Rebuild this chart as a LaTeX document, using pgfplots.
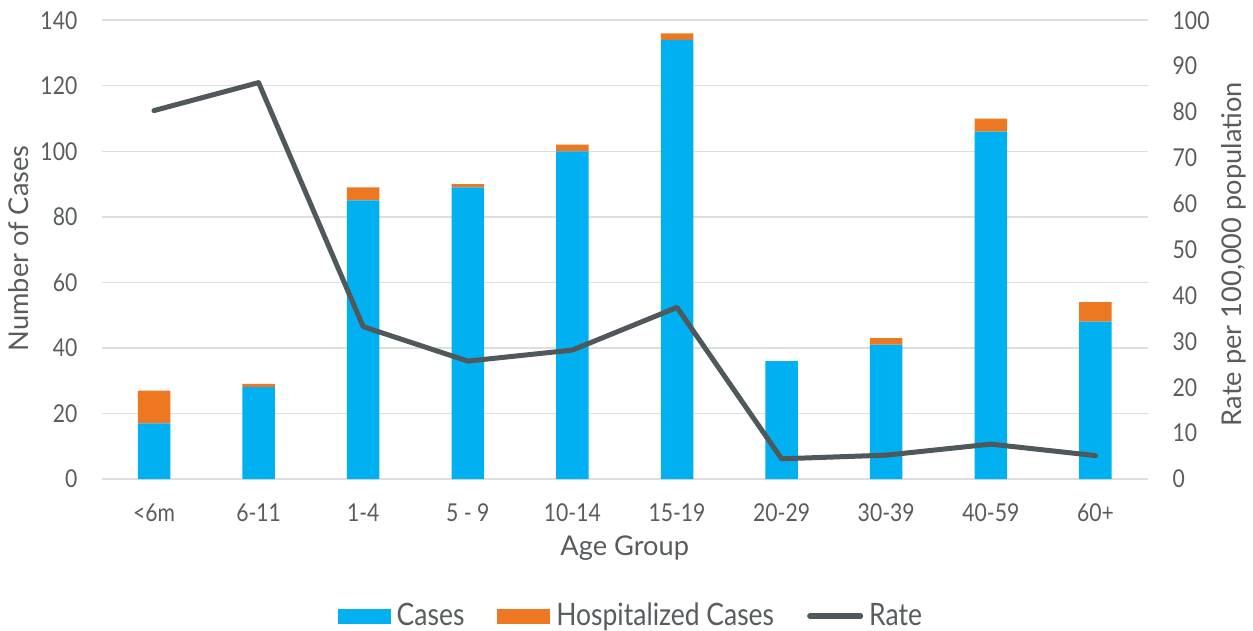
\documentclass[border=0pt]{standalone}
\usepackage{fontspec}
\setmainfont{Lato}
\newfontfamily\narrowfont{Lato}[FakeStretch=0.86]
\usepackage{pgfplots}
\pgfplotsset{compat=1.18}

\definecolor{casesblue}{RGB}{0,176,240}
\definecolor{hospor}{RGB}{238,119,34}
\definecolor{rateline}{RGB}{79,88,90}
\definecolor{txtgray}{RGB}{88,92,94}
\definecolor{gridgray}{RGB}{222,222,222}

\newcommand{\tickfont}{\narrowfont\fontsize{12.3bp}{14bp}\selectfont}
\newcommand{\labelfont}{\fontsize{13.6bp}{16bp}\selectfont}
\newcommand{\legendfont}{\narrowfont\fontsize{15.4bp}{18bp}\selectfont}

\pgfplotsset{
  commonaxis/.style={
    scale only axis,
    width=523bp, height=229.4bp,
    xmin=-0.5, xmax=9.5,
    at={(0,0)}, anchor=south west,
    /pgf/number format/assume math mode=true,
    tick label style={font=\tickfont, text=txtgray, inner sep=0pt},
    major tick length=0pt,
  },
}

\begin{document}
\begin{tikzpicture}
\path[use as bounding box] (-50.85bp,-76bp) rectangle (575.65bp,239.5bp);

% Number of cases, stacked by hospitalization status
\begin{axis}[
  commonaxis,
  ybar stacked, bar width=16.25bp,
  ymin=0, ymax=140, ytick={0,20,...,140},
  xtick={0,...,9},
  xticklabels={<6m,6-11,1-4,5 - 9,10-14,15-19,20-29,30-39,40-59,60+},
  xticklabel style={anchor=center, yshift=-16.8bp},
  yticklabel style={anchor=east, xshift=-12bp},
  axis y line*=left, axis x line*=bottom,
  y axis line style={draw=none},
  x axis line style={draw=gridgray, line width=0.8bp},
  ymajorgrids, grid style={draw=gridgray, line width=0.7bp},
  every axis x label/.style={at={(axis description cs:0.5,-0.1657)}, anchor=base,
    font=\labelfont, text=txtgray, inner sep=0pt},
  every axis y label/.style={at={(axis description cs:-0.0704,0.5025)}, rotate=90, anchor=base,
    font=\labelfont, text=txtgray, inner sep=0pt},
  xlabel={Age Group},
  ylabel={Number of Cases},
]
\addplot[fill=casesblue, draw=none] coordinates {
  (0,17) (1,28) (2,85) (3,89) (4,100) (5,134) (6,36) (7,41) (8,106) (9,48)};
\addplot[fill=hospor, draw=none] coordinates {
  (0,10) (1,1) (2,4) (3,1) (4,2) (5,2) (6,0) (7,2) (8,4) (9,6)};
\end{axis}

% Rate per 100,000 population on the secondary axis
\begin{axis}[
  commonaxis,
  ymin=0, ymax=100, ytick={0,10,...,100},
  axis y line*=right, axis x line=none,
  y axis line style={draw=none},
  yticklabel style={anchor=west, xshift=12.3bp},
  every axis y label/.style={at={(axis description cs:1.0899,0.49)}, rotate=90, anchor=base,
    font=\labelfont, text=txtgray, inner sep=0pt},
  ylabel={Rate per 100,000 population},
  legend columns=3,
  legend style={
    at={(axis description cs:0.505,-0.2987)}, anchor=center,
    draw=none, fill=none, font=\legendfont, text=txtgray,
    inner sep=0pt,
    nodes={inner sep=0pt},
    /tikz/every odd column/.append style={column sep=3bp},
    /tikz/every even column/.append style={column sep=16.5bp},
  },
]
\addlegendimage{legend image code/.code={\fill[casesblue] (0bp,-3.5bp) rectangle (26bp,3.5bp);}}
\addlegendentry{Cases}
\addlegendimage{legend image code/.code={\fill[hospor] (0bp,-3.5bp) rectangle (26bp,3.5bp);}}
\addlegendentry{Hospitalized Cases}
\addlegendimage{legend image code/.code={\draw[rateline, line width=2.6bp, line cap=round] (1.3bp,0) -- (26.7bp,0);}}
\addlegendentry{Rate}
\addplot[rateline, line width=2.5bp, line join=round, line cap=round, mark=none] coordinates {
  (0,80.3) (1,86.4) (2,33.2) (3,25.7) (4,28.1) (5,37.4) (6,4.4) (7,5.2) (8,7.6) (9,5.1)};
\end{axis}
\end{tikzpicture}
\end{document}
